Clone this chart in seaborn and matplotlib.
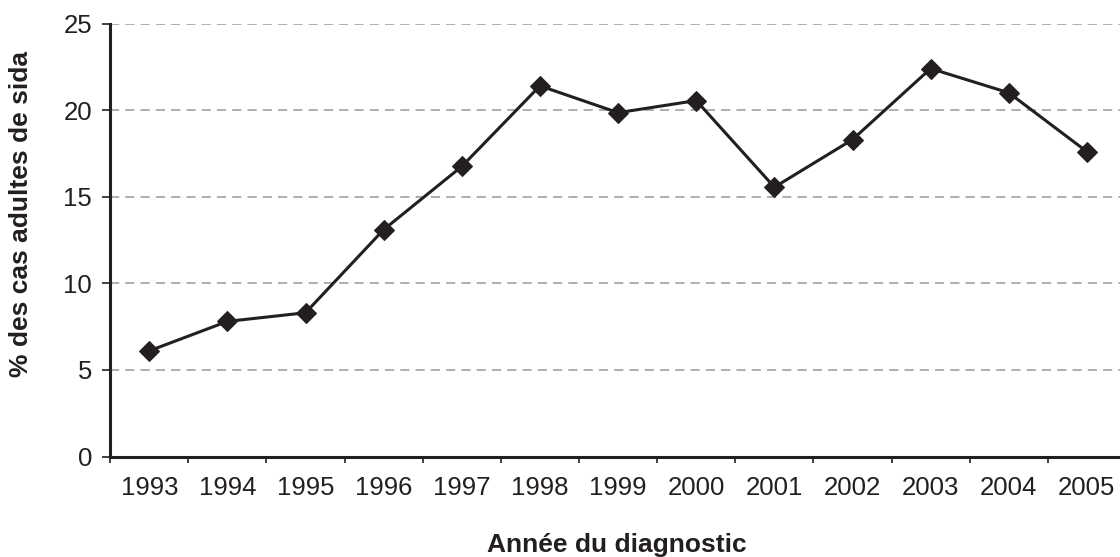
import matplotlib
matplotlib.use("Agg")
import matplotlib.pyplot as plt
import seaborn as sns
import numpy as np
import pandas as pd
from matplotlib.ticker import FixedLocator, NullFormatter

years = ["1993", "1994", "1995", "1996", "1997", "1998", "1999",
         "2000", "2001", "2002", "2003", "2004", "2005"]
values = [6.1, 7.8, 8.3, 13.1, 16.75, 21.4, 19.85, 20.55, 15.55, 18.3, 22.4, 21.0, 17.6]
y_ticks = [0, 5, 10, 15, 20, 25]

sns.set_theme(style="white")
plt.rcParams['font.family'] = ['Liberation Sans', 'DejaVu Sans']

df = pd.DataFrame({"idx": np.arange(len(years)), "val": values})

fig = plt.figure(figsize=(11.2, 5.57), dpi=100)
ax = fig.add_axes([110.2 / 1120, (557 - 456.5) / 557, (1126 - 110.2) / 1120, (456.5 - 23.5) / 557])

sns.lineplot(data=df, x="idx", y="val", ax=ax, color="#231f20", linewidth=2.2,
             marker="D", markersize=10, markeredgecolor="#231f20", markerfacecolor="#231f20")

ax.set_xlim(-0.5, len(years) - 0.5)
ax.set_ylim(0, 25)
ax.set_yticks(y_ticks)
ax.set_yticklabels([str(t) for t in y_ticks], fontsize=18.5, color="#231f20")
ax.yaxis.grid(True, linestyle=(0, (6, 4)), color="#999999", linewidth=1.1)
ax.set_axisbelow(True)

ax.xaxis.set_major_locator(FixedLocator(np.arange(-0.5, len(years), 1.0)))
ax.xaxis.set_major_formatter(NullFormatter())
ax.set_xticks(np.arange(len(years)), minor=True)
ax.set_xticklabels(years, minor=True, fontsize=18.5, color="#231f20")
ax.tick_params(axis="x", which="minor", length=0, pad=14)
ax.tick_params(axis="x", which="major", length=4.5, width=1.2, color="#231f20", direction="out", bottom=True)
ax.tick_params(axis="y", length=6, width=1.2, color="#231f20", direction="out", left=True, pad=7)

for s in ["top", "right"]:
    ax.spines[s].set_visible(False)
for s in ["left", "bottom"]:
    ax.spines[s].set_color("#231f20")
    ax.spines[s].set_linewidth(2.2)

ax.set_xlabel("")
ax.set_ylabel("")
fig.text(617 / 1120, 1 - 552 / 557, "Année du diagnostic", ha="center", va="baseline",
         fontsize=19, fontweight="bold", color="#231f20")
fig.text(21 / 1120, 1 - 214 / 557, "% des cas adultes de sida", ha="center", va="center",
         rotation=90, fontsize=19, fontweight="bold", color="#231f20")

fig.savefig("out.png", dpi=100)
